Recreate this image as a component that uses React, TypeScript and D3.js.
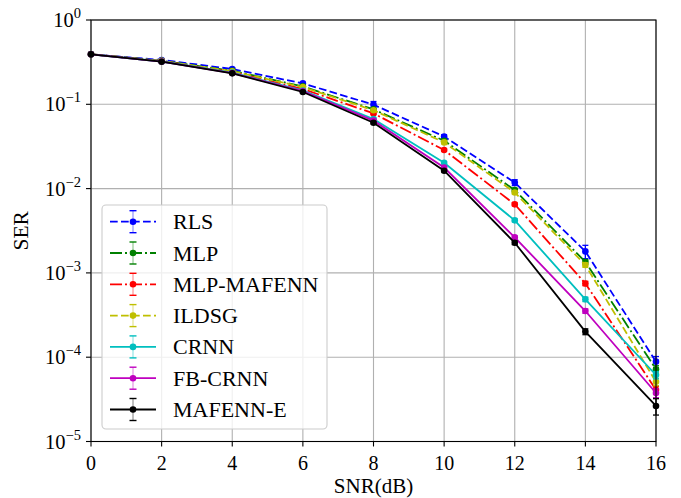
import React from "react";
import * as d3 from "d3";

const snr = [0, 2, 4, 6, 8, 10, 12, 14, 16];
const seriesNames = ["RLS", "MLP", "MLP-MAFENN", "ILDSG", "CRNN", "FB-CRNN", "MAFENN-E"];
const rls = [0.392, 0.336, 0.262, 0.177, 0.099, 0.0415, 0.0118, 0.0018, 0.0000885];
const mlp = [0.392, 0.328, 0.25, 0.163, 0.087, 0.037, 0.0096, 0.00135, 0.000072];
const mlpMafenn = [0.392, 0.325, 0.242, 0.152, 0.078, 0.0287, 0.0065, 0.00075, 0.000041];
const ildsg = [0.392, 0.327, 0.247, 0.16, 0.085, 0.0353, 0.009, 0.00124, 0.000051];
const crnn = [0.392, 0.322, 0.238, 0.146, 0.067, 0.0203, 0.0042, 0.000486, 0.0000615];
const fbCrnn = [0.392, 0.321, 0.235, 0.143, 0.064, 0.0178, 0.00264, 0.000353, 0.0000376];
const mafennE = [0.392, 0.32, 0.233, 0.14, 0.0605, 0.0163, 0.00228, 0.000201, 0.0000264];

// relative half-width of error bars
const rlsErr = [0.01, 0.02, 0.03, 0.03, 0.09, 0.05, 0.08, 0.18, 0.15];
const mlpErr = [0.01, 0.01, 0.02, 0.02, 0.03, 0.03, 0.05, 0.06, 0.1];
const mlpMafennErr = [0.01, 0.01, 0.02, 0.02, 0.03, 0.03, 0.04, 0.06, 0.1];
const ildsgErr = [0.01, 0.01, 0.02, 0.02, 0.03, 0.03, 0.04, 0.06, 0.1];
const crnnErr = [0.01, 0.01, 0.02, 0.02, 0.03, 0.03, 0.04, 0.06, 0.1];
const fbCrnnErr = [0.01, 0.01, 0.02, 0.02, 0.03, 0.03, 0.04, 0.06, 0.12];
const mafennEErr = [0.01, 0.01, 0.02, 0.02, 0.03, 0.03, 0.05, 0.08, 0.22];

const xTicks = [0, 2, 4, 6, 8, 10, 12, 14, 16];
const yTickExps = [0, -1, -2, -3, -4, -5];

const seriesValues = [rls, mlp, mlpMafenn, ildsg, crnn, fbCrnn, mafennE];
const seriesErrs = [rlsErr, mlpErr, mlpMafennErr, ildsgErr, crnnErr, fbCrnnErr, mafennEErr];
const colors = ["#0000ff", "#008000", "#ff0000", "#bfbf00", "#00bfbf", "#bf00bf", "#000000"];
const dashes = ["7.7,3.3", "12,3,2,3", "12,3,2,3", "7.7,3.3", "none", "none", "none"];

const W = 681;
const H = 498;
const L = 91;
const R = 656;
const T = 20;
const B = 441.5;
const FONT = "'Liberation Serif', 'DejaVu Serif', serif";

export default function App() {
  const x = d3.scaleLinear().domain([0, 16]).range([L, R]);
  const y = d3.scaleLog().domain([1e-5, 1]).range([B, T]);
  const line = d3
    .line<number>()
    .x((_, i) => x(snr[i]))
    .y((d) => y(d));

  const legX = 102;
  const legY = 205;
  const rowH = 31.3;

  return (
    <svg
      width={W}
      height={H}
      style={{ position: "absolute", left: 0, top: 0, background: "#fff" }}
      fontFamily={FONT}
    >
      <rect x={0} y={0} width={W} height={H} fill="#fff" />
      {/* grid */}
      {xTicks.map((t) => (
        <line key={"gx" + t} x1={x(t)} x2={x(t)} y1={T} y2={B} stroke="#b0b0b0" strokeWidth={1.1} />
      ))}
      {yTickExps.map((e) => (
        <line key={"gy" + e} x1={L} x2={R} y1={y(Math.pow(10, e))} y2={y(Math.pow(10, e))} stroke="#b0b0b0" strokeWidth={1.1} />
      ))}
      {/* series */}
      {seriesValues.map((vals, si) => (
        <g key={"s" + si}>
          {vals.map((v, i) => {
            const f = seriesErrs[si][i];
            const y1 = y(v * (1 + f));
            const y2 = y(v * (1 - f));
            const cx = x(snr[i]);
            return (
              <g key={i} stroke={colors[si]} strokeWidth={1.3}>
                <line x1={cx} x2={cx} y1={y1} y2={y2} />
                <line x1={cx - 3} x2={cx + 3} y1={y1} y2={y1} />
                <line x1={cx - 3} x2={cx + 3} y1={y2} y2={y2} />
              </g>
            );
          })}
          <path
            d={line(vals) || ""}
            fill="none"
            stroke={colors[si]}
            strokeWidth={1.8}
            strokeDasharray={dashes[si] === "none" ? undefined : dashes[si]}
          />
          {vals.map((v, i) => (
            <circle key={"m" + i} cx={x(snr[i])} cy={y(v)} r={3.3} fill={colors[si]} />
          ))}
        </g>
      ))}
      {/* spines */}
      <rect x={L} y={T} width={R - L} height={B - T} fill="none" stroke="#000" strokeWidth={1.1} />
      {/* x ticks */}
      {xTicks.map((t) => (
        <g key={"xt" + t}>
          <line x1={x(t)} x2={x(t)} y1={B} y2={B + 5} stroke="#000" strokeWidth={1.1} />
          <text x={x(t)} y={469.5} textAnchor="middle" fontSize={20} fill="#000">
            {t}
          </text>
        </g>
      ))}
      {/* y ticks */}
      {yTickExps.map((e) => {
        const yy = y(Math.pow(10, e));
        return (
          <g key={"yt" + e}>
            <line x1={L - 5} x2={L} y1={yy} y2={yy} stroke="#000" strokeWidth={1.1} />
            <text x={L - 10} y={yy + 7} textAnchor="end" fontSize={20.5} fill="#000">
              <tspan>10</tspan>
              <tspan dy={-9} fontSize={14.5}>
                {e === 0 ? "0" : "\u2212" + Math.abs(e)}
              </tspan>
            </text>
          </g>
        );
      })}
      {/* axis labels */}
      <text x={(L + R) / 2} y={493} textAnchor="middle" fontSize={21} fill="#000">
        SNR(dB)
      </text>
      <text
        transform={`translate(28,${(T + B) / 2}) rotate(-90)`}
        textAnchor="middle"
        fontSize={21.5}
        fill="#000"
      >
        SER
      </text>
      {/* legend */}
      <rect x={legX} y={legY} width={225} height={224} rx={4} fill="#fff" fillOpacity={0.8} stroke="#cccccc" strokeWidth={1.1} />
      {seriesNames.map((name, si) => {
        const cy = legY + 16.7 + si * rowH;
        const hx = 133;
        return (
          <g key={"lg" + si}>
            <line x1={hx} x2={hx} y1={cy - 11} y2={cy + 11} stroke={colors[si]} strokeWidth={1} strokeOpacity={0.5} />
            <line x1={hx - 3.5} x2={hx + 3.5} y1={cy - 11} y2={cy - 11} stroke={colors[si]} strokeWidth={1.4} />
            <line x1={hx - 3.5} x2={hx + 3.5} y1={cy + 11} y2={cy + 11} stroke={colors[si]} strokeWidth={1.4} />
            <line
              x1={110}
              x2={156}
              y1={cy}
              y2={cy}
              stroke={colors[si]}
              strokeWidth={1.8}
              strokeDasharray={dashes[si] === "none" ? undefined : dashes[si]}
            />
            <circle cx={hx} cy={cy} r={3.3} fill={colors[si]} />
            <text x={173} y={cy + 7.5} fontSize={22} fill="#000">
              {name}
            </text>
          </g>
        );
      })}
    </svg>
  );
}
